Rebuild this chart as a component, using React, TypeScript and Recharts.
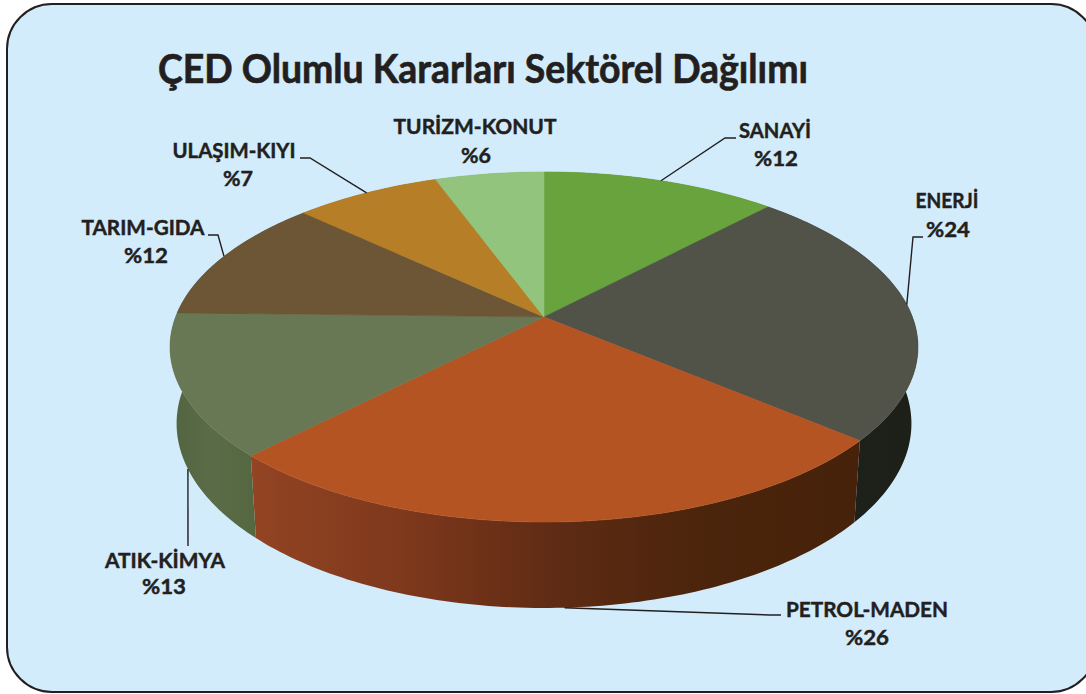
import React from 'react';
import { PieChart, Pie } from 'recharts';

const WIDTH = 1086;
const HEIGHT = 694;

const titleText = 'ÇED Olumlu Kararları Sektörel Dağılımı';
const sectors = ['SANAYİ', 'ENERJİ', 'PETROL-MADEN', 'ATIK-KİMYA', 'TARIM-GIDA', 'ULAŞIM-KIYI', 'TURİZM-KONUT'];
const shares = [12, 24.2, 26.1, 13.1, 11.6, 7.45, 5.55];
const topColors = ['#68a33e', '#515349', '#b55423', '#687855', '#6c5636', '#b67f27', '#92c47d'];
const wallStops = [
  ['#4f7a2e', '#4f7a2e'],
  ['#1f211b', '#1d1f19'],
  ['#934423', '#7e381c', '#5f2b14', '#4a240b', '#47220a'],
  ['#53653f', '#5a6c48', '#55673f'],
  ['#4f3f28', '#4f3f28'],
  ['#85601f', '#85601f'],
  ['#6f9a5c', '#6f9a5c'],
];

// Label layout: centres and baselines of both lines, widths, elbow of the leader line
const labelLayout = [
  { x: 775, x2: 776, y1: 138, y2: 166, w: 72, w2: 44, path: [[725, 138], [736, 138]], rim: 'top', shift: 0 },
  { x: 947, x2: 948, y1: 208, y2: 237, w: 63, w2: 44, path: [[913, 237], [923, 237]], rim: 'top', shift: 1 },
  { x: 867, x2: 867, y1: 617, y2: 645, w: 162, w2: 44, path: [[770, 615], [781, 615]], rim: 'low', shift: 0 },
  { x: 165, x2: 164, y1: 568, y2: 594, w: 120, w2: 44, path: [[188, 546]], rim: 'low', shift: 1.5 },
  { x: 143, x2: 146, y1: 235, y2: 263, w: 123, w2: 44, path: [[218, 235], [208, 235]], rim: 'top', shift: 0 },
  { x: 234, x2: 238, y1: 158, y2: 186, w: 123, w2: 30, path: [[310, 158], [300, 158]], rim: 'top', shift: 0 },
  { x: 475, x2: 476, y1: 134, y2: 163, w: 163, w2: 30, path: [], rim: 'none', shift: 0 },
];

const PERSPECTIVE = 0.1714;
const FLATTEN = 0.4612;
const LOWER_SCALE = 0.9826;
const LOWER_Y = 392;
const LOWER_FLATTEN = 0.4858;
const FONT = 'Lato, "Open Sans", sans-serif';
const INK = '#231f20';

const project = (cx: number, cy: number, r: number, angle: number, lower = false) => {
  const t = ((90 - angle) * Math.PI) / 180;
  const u = Math.sin(t);
  const v = -Math.cos(t);
  const d = 1 - PERSPECTIVE * v;
  if (lower) {
    return [cx + (r * LOWER_SCALE * u) / d, LOWER_Y + (r * LOWER_FLATTEN * v) / d];
  }
  return [cx + (r * u) / d, cy + (r * FLATTEN * v) / d];
};

const arc = (cx: number, cy: number, r: number, a0: number, a1: number, lower = false) => {
  const n = Math.max(2, Math.ceil(Math.abs(a1 - a0)));
  const pts: number[][] = [];
  for (let i = 0; i <= n; i++) pts.push(project(cx, cy, r, a0 + ((a1 - a0) * i) / n, lower));
  return pts;
};

const toPath = (pts: number[][]) =>
  'M' + pts.map((p) => `${p[0].toFixed(2)},${p[1].toFixed(2)}`).join('L') + 'Z';

const TopShape = (p: any) => {
  const pts = [[p.cx, p.cy], ...arc(p.cx, p.cy, p.outerRadius, p.startAngle, p.endAngle)];
  const color = topColors[sectors.indexOf(p.payload.name)];
  return <path d={toPath(pts)} fill={color} stroke={color} strokeWidth={0.6} />;
};

const WallShape = (p: any) => {
  const i = sectors.indexOf(p.payload.name);
  const upper = arc(p.cx, p.cy, p.outerRadius, p.startAngle, p.endAngle);
  const lower = arc(p.cx, p.cy, p.outerRadius, p.endAngle, p.startAngle, true);
  const stops = wallStops[i];
  const id = `wall-${i}`;
  return (
    <g>
      <defs>
        <linearGradient id={id} x1="0" y1="0" x2="1" y2="0">
          {stops.map((c, k) => (
            <stop key={k} offset={k / (stops.length - 1)} stopColor={c} />
          ))}
        </linearGradient>
      </defs>
      <path d={toPath([...upper, ...lower])} fill={`url(#${id})`} />
    </g>
  );
};

const SliceLabel = (p: any) => {
  const i = sectors.indexOf(p.payload.name);
  const l = labelLayout[i];
  const lines: number[][] = [];
  if (l.rim !== 'none') {
    const start = project(p.cx, p.cy, p.outerRadius, p.midAngle + l.shift, l.rim === 'low');
    lines.push(start, ...l.path);
  }
  const txt = {
    fontFamily: FONT,
    fontWeight: 700,
    fontSize: 21,
    fill: INK,
    stroke: INK,
    strokeWidth: 0.45,
    textAnchor: 'middle' as const,
  };
  return (
    <g>
      {lines.length > 0 && (
        <polyline
          points={lines.map((q) => q.join(',')).join(' ')}
          fill="none"
          stroke={INK}
          strokeWidth={1.4}
        />
      )}
      <text {...txt} x={l.x} y={l.y1} textLength={l.w} lengthAdjust="spacingAndGlyphs">
        {p.payload.name}
      </text>
      <text {...txt} x={l.x2} y={l.y2} textLength={l.w2} lengthAdjust="spacingAndGlyphs">
        {`%${Math.round(p.payload.value)}`}
      </text>
    </g>
  );
};

const data = sectors.map((name, k) => ({ name, value: shares[k] }));

export default function App() {
  return (
    <div
      style={{
        position: 'absolute',
        left: 0,
        top: 0,
        width: WIDTH,
        height: HEIGHT,
        overflow: 'hidden',
        background: '#ffffff',
      }}
    >
      <div
        style={{
          position: 'absolute',
          left: 6,
          top: 3,
          width: 1091,
          height: 690,
          boxSizing: 'border-box',
          background: '#d3ecfb',
          border: '2.5px solid #231f20',
          borderRadius: 46,
        }}
      />
      <div style={{ position: 'absolute', left: 0, top: 0 }}>
        <PieChart width={WIDTH} height={HEIGHT} margin={{ top: 0, right: 0, bottom: 0, left: 0 }}>
          <text
            x={158}
            y={83}
            fontFamily={FONT}
            fontWeight={700}
            fontSize={41}
            fill={INK}
            stroke={INK}
            strokeWidth={0.7}
            textLength={650}
            lengthAdjust="spacingAndGlyphs"
          >
            {titleText}
          </text>
          <Pie
            data={data}
            dataKey="value"
            nameKey="name"
            cx={544}
            cy={317}
            outerRadius={368.4}
            startAngle={90}
            endAngle={-270}
            stroke="none"
            shape={WallShape}
            label={false}
            labelLine={false}
            isAnimationActive={false}
          />
          <Pie
            data={data}
            dataKey="value"
            nameKey="name"
            cx={544}
            cy={317}
            outerRadius={368.4}
            startAngle={90}
            endAngle={-270}
            stroke="none"
            shape={TopShape}
            label={SliceLabel}
            labelLine={false}
            isAnimationActive={false}
          />
        </PieChart>
      </div>
    </div>
  );
}
